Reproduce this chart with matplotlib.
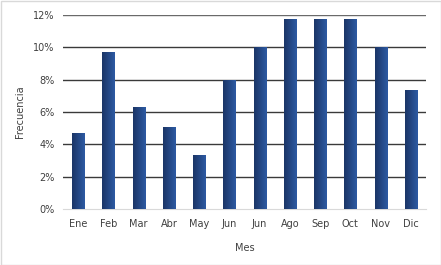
import matplotlib
matplotlib.use("Agg")
import matplotlib.pyplot as plt
import numpy as np
from matplotlib.patches import Rectangle

months = ["Ene", "Feb", "Mar", "Abr", "May", "Jun", "Jun", "Ago", "Sep", "Oct", "Nov", "Dic"]
freq = [4.7, 9.7, 6.3, 5.05, 3.35, 8.0, 10.0, 11.75, 11.75, 11.75, 10.0, 7.35]
yticks = [0, 2, 4, 6, 8, 10, 12]

W, H = 441, 265
fig = plt.figure(figsize=(W/100, H/100), dpi=100)
fig.patch.set_facecolor("white")
# outer border
fig.patches.append(Rectangle((0.5/W, 0.5/H), 1-1/W, 1-1/H, transform=fig.transFigure,
                             fill=False, edgecolor="#d9d9d9", linewidth=1))
ax = fig.add_axes([63/W, 1-209/H, (426-63)/W, (209-15)/H])
x = np.arange(len(months))
bars = ax.bar(x, freq, width=0.4, color="#274a8a", zorder=3)

# horizontal gradient on bars
grad = np.linspace(0, 1, 64).reshape(1, -1)
from matplotlib.colors import LinearSegmentedColormap
cmap = LinearSegmentedColormap.from_list("g", ["#1b3566", "#2d5aa3"])
for b in bars:
    x0, w, h = b.get_x(), b.get_width(), b.get_height()
    im = ax.imshow(grad, extent=[x0, x0 + w, 0, h], cmap=cmap, aspect="auto", zorder=4)
    im.set_clip_path(b)

ax.set_xlim(-0.5, len(months) - 0.5)
ax.set_ylim(0, 12)
ax.set_yticks(yticks)
ax.set_yticklabels([f"{t}%" for t in yticks])
ax.set_xticks(x)
ax.set_xticklabels(months)
for s in ["top", "right", "left"]:
    ax.spines[s].set_visible(False)
ax.spines["bottom"].set_color("#d9d9d9")
ax.tick_params(length=0, labelsize=7, colors="#404040", pad=6)
ax.tick_params(axis="x", pad=7)
for t in yticks[1:]:
    ax.axhline(t, color="#3a3a3a" if t < 12 else "#6a6a6a", linewidth=1, zorder=1)
ax.set_ylabel("Frecuencia", fontsize=7, color="#404040", labelpad=6)
ax.set_xlabel("Mes", fontsize=7, color="#404040", labelpad=10)
fig.savefig("out.png", dpi=100)
